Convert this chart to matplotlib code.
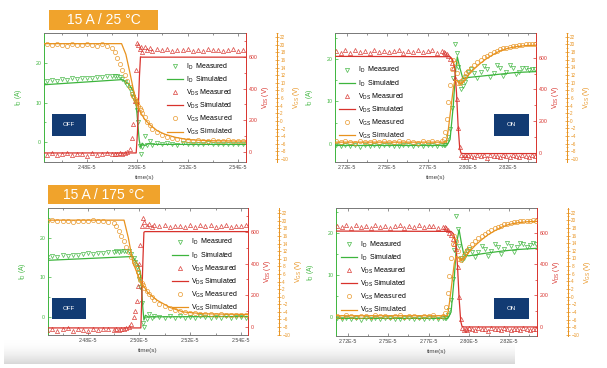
import numpy as np
import matplotlib
matplotlib.use("Agg")
import matplotlib.pyplot as plt
from matplotlib.patches import Rectangle
from matplotlib.colors import LinearSegmentedColormap
from matplotlib.ticker import MultipleLocator, FixedLocator

plt.rcParams['font.family'] = ['Liberation Sans', 'DejaVu Sans']
plt.rcParams['mathtext.default'] = 'regular'

VERDE = '#3db53d'
VERMELHO = '#d8322c'
LARANJA = '#e8921e'
AZUL = '#123b73'
CINZA = '#444444'

# time axis in units of 1e-5 s
OFF_T = [2.464, 2.466, 2.468, 2.470, 2.472, 2.474, 2.476, 2.478, 2.480, 2.482, 2.484, 2.486, 2.488, 2.490,
         2.491, 2.492, 2.493, 2.494, 2.495, 2.496, 2.497, 2.498, 2.4985, 2.499, 2.4995, 2.500, 2.5005, 2.501, 2.5015, 2.502,
         2.503, 2.504, 2.505, 2.506,
         2.508, 2.510, 2.512, 2.514, 2.516, 2.518, 2.520, 2.522, 2.524, 2.526, 2.528, 2.530, 2.532, 2.534, 2.536, 2.538, 2.540, 2.542]
ON_T = [2.718, 2.721, 2.724, 2.727, 2.730, 2.733, 2.736, 2.739, 2.742, 2.745, 2.748, 2.751, 2.754, 2.757, 2.760, 2.763,
        2.766, 2.769, 2.772, 2.775, 2.778, 2.781, 2.784,
        2.785, 2.786, 2.787, 2.788, 2.789, 2.790, 2.791, 2.792, 2.793, 2.794, 2.795, 2.796, 2.797, 2.798, 2.799, 2.800,
        2.802, 2.804, 2.806, 2.808, 2.810, 2.812, 2.814, 2.816, 2.818, 2.820, 2.822, 2.824, 2.826, 2.828, 2.830, 2.832,
        2.834, 2.836, 2.838, 2.840, 2.842]

# 15 A / 25 C, turn-off
TL_ID_MEAS = [15.4, 15.7, 15.5, 15.9, 15.8, 16.1, 15.9, 16.2, 16.3, 16.1, 16.5, 16.4, 16.7, 16.6,
              16.8, 16.6, 16.4, 16.0, 15.3, 14.5, 13.5, 12.2, 11.3, 10.4, 9.5, 8.0, 5.0, -1.0, -3.0, -1.2,
              1.5, -0.8, 0.3, -0.7,
              -0.3, -0.6, -0.2, -0.5, -0.7, -0.3, -0.5, -0.6, -0.4, -0.5, -0.3, -0.6, -0.5, -0.4, -0.6, -0.5, -0.4, -0.6]
TL_VDS_MEAS = [-15, -8, -20, -12, -5, -18, -10, -14, -22, -8, -16, -11, -6, -13,
               -10, -14, -6, -12, -4, 2, 18, 90, 180, 320, 520, 690, 675, 650, 665, 632,
               660, 640, 655, 635,
               650, 640, 648, 636, 645, 640, 652, 638, 644, 635, 648, 640, 646, 636, 642, 650, 638, 644]
TL_VGS_MEAS = [20.1, 19.9, 20.2, 20.0, 19.8, 20.1, 20.0, 19.9, 20.2, 20.0, 19.8, 20.1, 19.8, 19.2,
               18.0, 16.6, 15.0, 13.5, 12.0, 10.5, 9.0, 7.2, 6.5, 5.8, 5.2, 4.6, 4.0, 3.4, 2.8, 2.2,
               1.0, -0.2, -1.2, -2.0,
               -3.0, -3.7, -4.2, -4.5, -4.8, -5.0, -5.1, -5.2, -5.1, -5.3, -5.2, -5.1, -5.3, -5.2, -5.1, -5.3, -5.2, -5.2]
TL_ID_SIM_T = [2.463, 2.475, 2.494, 2.4965, 2.4985, 2.4995, 2.5002, 2.5008, 2.5013, 2.502, 2.503, 2.5045, 2.507, 2.5435]
TL_ID_SIM = [14.5, 15.0, 15.8, 14.8, 12.8, 10.5, 5.0, 0.5, -1.2, -0.3, -0.9, -0.4, -0.6, -0.6]
TL_VDS_SIM_T = [2.463, 2.4996, 2.5001, 2.5005, 2.5009, 2.5013, 2.5018, 2.5435]
TL_VDS_SIM = [-5, -5, 120, 300, 480, 600, 598, 598]
TL_VGS_SIM_T = [2.463, 2.4938, 2.4955, 2.497, 2.4985, 2.500, 2.5015, 2.503, 2.505, 2.508, 2.511, 2.515, 2.520, 2.528, 2.5435]
TL_VGS_SIM = [20.3, 20.3, 17.5, 13.0, 8.2, 4.4, 2.0, 0.4, -1.0, -2.6, -3.5, -4.3, -4.9, -5.2, -5.3]

# 15 A / 175 C, turn-off
BL_ID_MEAS = [15.2, 15.4, 15.3, 15.6, 15.5, 15.8, 15.7, 15.9, 16.1, 15.9, 16.2, 16.3, 16.5, 16.4,
              16.6, 16.5, 16.7, 16.6, 16.8, 16.6, 16.0, 14.8, 13.8, 12.6, 11.2, 9.6, 7.5, 3.5, -1.5, -2.6,
              -0.5, 0.6, -0.2, 0.3,
              0.0, -0.3, 0.2, -0.2, 0.1, -0.3, 0.0, -0.2, 0.1, -0.1, -0.3, 0.0, -0.2, 0.1, -0.2, -0.1, 0.0, -0.3]
BL_VDS_MEAS = [-22, -15, -30, -18, -10, -25, -16, -20, -28, -12, -24, -18, -14, -20,
               -16, -20, -12, -18, -10, -5, 15, 60, 100, 160, 260, 400, 520, 640, 690, 665,
               640, 650, 636, 645,
               638, 646, 634, 642, 640, 636, 648, 635, 643, 638, 645, 634, 641, 647, 636, 642, 639, 644]
BL_VGS_MEAS = [20.0, 20.2, 19.9, 20.1, 20.0, 19.8, 20.1, 20.0, 19.9, 20.2, 20.0, 19.9, 19.7, 19.4,
               18.6, 17.4, 16.0, 14.6, 13.2, 11.9, 10.6, 9.2, 8.5, 7.6, 6.6, 5.4, 4.4, 3.6, 3.0, 2.4,
               1.5, 0.6, -0.2, -0.8,
               -1.8, -2.5, -3.0, -3.4, -3.8, -4.0, -4.2, -4.4, -4.5, -4.6, -4.6, -4.7, -4.6, -4.8, -4.7, -4.7, -4.8, -4.7]
BL_ID_SIM_T = [2.463, 2.480, 2.4975, 2.4995, 2.5005, 2.501, 2.5015, 2.5019, 2.5025, 2.5035, 2.5435]
BL_ID_SIM = [14.3, 14.8, 15.3, 13.2, 11.5, 7.0, 2.0, -0.8, 0.4, 0.0, 0.1]
BL_VDS_SIM_T = [2.463, 2.5007, 2.5011, 2.5015, 2.5019, 2.5023, 2.5435]
BL_VDS_SIM = [-8, -8, 200, 420, 600, 604, 604]
BL_VGS_SIM_T = [2.463, 2.4941, 2.4958, 2.4976, 2.5004, 2.5035, 2.507, 2.512, 2.5172, 2.525, 2.5435]
BL_VGS_SIM = [20.2, 20.2, 15.5, 9.0, 4.3, 1.0, -0.9, -2.8, -4.0, -4.5, -4.7]

# 15 A / 25 C, turn-on
TR_ID_MEAS = [-0.3, -0.6, -0.2, -0.5, -0.4, -0.7, -0.3, -0.5, -0.2, -0.6, -0.4, -0.3, -0.6, -0.5, -0.2, -0.4,
              -0.6, -0.3, -0.5, -0.4, -0.2, -0.5, -0.3,
              -0.4, -0.2, 0.3, 1.5, 3.5, 8.5, 15.5, 23.5, 21.5, 18.0, 14.5, 13.0, 13.5, 14.6, 15.8, 16.8,
              17.6, 16.6, 15.5, 16.8, 18.4, 17.6, 15.8, 16.6, 18.6, 17.8, 16.0, 16.9, 18.5, 17.9, 16.5, 17.0,
              17.8, 17.9, 17.4, 17.6, 17.7]
TR_VDS_MEAS = [640, 632, 645, 628, 650, 638, 642, 630, 648, 636, 644, 633, 640, 646, 631, 642,
               637, 649, 634, 641, 645, 630, 640,
               636, 630, 620, 608, 592, 568, 535, 470, 340, 160, 40, -10, -22, -15, -25, -12,
               -18, -25, -10, -20, -15, -28, -12, -20, -16, -24, -10, -18, -22, -14, -20, -26,
               -12, -18, -22, -15, -20]
TR_VGS_MEAS = [-5.4, -5.6, -5.3, -5.5, -5.7, -5.4, -5.5, -5.6, -5.3, -5.5, -5.4, -5.6, -5.5, -5.3, -5.6, -5.4,
               -5.5, -5.7, -5.4, -5.5, -5.3, -5.6, -5.4,
               -4.8, -3.0, 0.5, 5.0, 9.5, 13.5, 16.0, 15.2, 12.5, 10.0, 9.8, 10.4, 11.0, 11.8, 12.4, 13.0,
               13.9, 14.7, 15.4, 16.0, 16.6, 17.1, 17.6, 18.0, 18.4, 18.7, 19.0, 19.2, 19.4, 19.6, 19.7, 19.8,
               19.9, 20.0, 20.0, 20.1, 20.0]
TR_ID_SIM_T = [2.7175, 2.787, 2.789, 2.791, 2.7925, 2.7935, 2.795, 2.797, 2.800, 2.810, 2.820, 2.830, 2.8425]
TR_ID_SIM = [-0.4, -0.4, 1.0, 9.0, 17.5, 20.5, 18.0, 15.3, 15.6, 16.0, 16.4, 16.8, 17.0]
TR_VDS_SIM_T = [2.7175, 2.789, 2.7905, 2.7918, 2.793, 2.794, 2.795, 2.7958, 2.797, 2.8425]
TR_VDS_SIM = [608, 606, 590, 540, 380, 170, 30, 0, -3, -3]
TR_VGS_SIM_T = [2.7175, 2.7868, 2.788, 2.789, 2.790, 2.791, 2.792, 2.7935, 2.795, 2.797, 2.800, 2.804, 2.808,
                2.812, 2.816, 2.820, 2.825, 2.830, 2.836, 2.8425]
TR_VGS_SIM = [-5.6, -5.6, -2.0, 1.5, 5.0, 8.5, 10.6, 10.5, 9.6, 10.1, 11.8, 13.6, 15.1, 16.4, 17.4, 18.3, 19.0,
              19.4, 19.7, 19.8]

# 15 A / 175 C, turn-on
BR_ID_MEAS = [-0.2, -0.5, -0.1, -0.4, -0.3, -0.6, -0.2, -0.4, -0.1, -0.5, -0.3, -0.2, -0.5, -0.4, -0.1, -0.3,
              -0.5, -0.2, -0.4, -0.3, -0.1, -0.4, -0.2,
              -0.3, -0.1, 0.4, 1.8, 4.0, 9.0, 16.0, 24.0, 21.0, 17.0, 14.0, 13.6, 14.2, 15.0, 15.8, 16.2,
              15.4, 14.4, 15.6, 17.0, 16.2, 14.6, 15.8, 17.4, 16.6, 15.0, 16.2, 17.6, 17.0, 15.6, 16.6, 17.6,
              17.4, 16.8, 17.3, 17.6, 17.5]
BR_VDS_MEAS = [645, 636, 650, 632, 652, 640, 646, 634, 651, 639, 647, 635, 643, 650, 634, 645,
               640, 652, 637, 644, 648, 633, 642,
               638, 630, 618, 602, 585, 560, 528, 500, 380, 190, 50, -8, -20, -12, -24, -10,
               -16, -22, -8, -18, -13, -25, -10, -18, -14, -22, -9, -16, -20, -12, -18, -24,
               -10, -16, -20, -13, -18]
BR_VGS_MEAS = [-5.0, -5.2, -4.9, -5.1, -5.3, -5.0, -5.1, -5.2, -4.9, -5.1, -5.0, -5.2, -5.1, -4.9, -5.2, -5.0,
               -5.1, -5.3, -5.0, -5.1, -4.9, -5.2, -5.0,
               -4.4, -2.6, 1.0, 5.5, 10.0, 13.8, 15.8, 14.6, 12.0, 9.8, 9.6, 10.2, 10.9, 11.6, 12.3, 12.9,
               13.8, 14.6, 15.3, 15.9, 16.5, 17.0, 17.5, 17.9, 18.3, 18.6, 18.9, 19.1, 19.3, 19.5, 19.6, 19.7,
               19.8, 19.9, 19.9, 20.0, 19.9]
BR_ID_SIM_T = [2.7175, 2.787, 2.789, 2.791, 2.7925, 2.794, 2.7955, 2.797, 2.800, 2.810, 2.820, 2.830, 2.8425]
BR_ID_SIM = [-0.3, -0.3, 1.2, 9.5, 17.8, 20.8, 17.5, 14.8, 14.6, 15.2, 15.7, 16.1, 16.4]
BR_VDS_SIM_T = [2.7175, 2.789, 2.7905, 2.7918, 2.793, 2.794, 2.795, 2.7958, 2.797, 2.8425]
BR_VDS_SIM = [613, 611, 595, 545, 390, 180, 35, 2, -2, -2]
BR_VGS_SIM_T = [2.7175, 2.7868, 2.788, 2.789, 2.790, 2.791, 2.792, 2.7935, 2.795, 2.797, 2.800, 2.804, 2.808,
                2.812, 2.816, 2.820, 2.825, 2.830, 2.836, 2.8425]
BR_VGS_SIM = [-5.0, -5.0, -1.6, 1.8, 5.3, 8.7, 10.5, 10.3, 9.5, 10.0, 11.6, 13.4, 14.9, 16.2, 17.2, 18.1, 18.9,
              19.3, 19.6, 19.7]

OFF_TICKS = [2.48, 2.50, 2.52, 2.54]
OFF_LABELS = ['2.48E-5', '2.50E-5', '2.52E-5', '2.54E-5']
ON_TICKS = [2.725, 2.75, 2.775, 2.80, 2.825]
ON_LABELS = ['2.72E-5', '2.75E-5', '2.77E-5', '2.80E-5', '2.82E-5']

LEGENDA = [r'$I_D$  Measured', r'$I_D$  Simulated', r'$V_{DS}$ Measured',
           r'$V_{DS}$ Simulated', r'$V_{GS}$ Measured', r'$V_{GS}$ Simulated']

W, H = 607, 368


def px(esq, topo, dir_, base):
    """pixel box -> figure fraction rect"""
    return [esq / W, 1 - base / H, (dir_ - esq) / W, (base - topo) / H]


def caixa(fig, esq, topo, dir_, base, cor, texto, tam):
    r = px(esq, topo, dir_, base)
    fig.add_artist(Rectangle((r[0], r[1]), r[2], r[3], transform=fig.transFigure,
                             facecolor=cor, edgecolor='none', zorder=20))
    fig.text(r[0] + r[2] / 2, r[1] + r[3] / 2, texto, color='white', fontsize=tam,
             ha='center', va='center', zorder=21)


def painel(fig, rect, t, id_m, vds_m, vgs_m, id_s, vds_s, vgs_s,
           xlim, lims, xticks, xlabels, leg_pos):
    ax = fig.add_axes(rect)
    ax2 = ax.twinx()
    ax3 = ax.twinx()
    ax3.spines['right'].set_position(('outward', 22))

    h1, = ax.plot(t, id_m, 'v', ms=3.0, mfc='none', mec=VERDE, mew=0.55, alpha=0.85)
    h2, = ax.plot(id_s[0], id_s[1], '-', color=VERDE, lw=0.9)
    h3, = ax2.plot(t, vds_m, '^', ms=3.0, mfc='none', mec=VERMELHO, mew=0.55, alpha=0.85)
    h4, = ax2.plot(vds_s[0], vds_s[1], '-', color=VERMELHO, lw=0.9)
    h5, = ax3.plot(t, vgs_m, 'o', ms=3.0, mfc='none', mec=LARANJA, mew=0.55, alpha=0.85)
    h6, = ax3.plot(vgs_s[0], vgs_s[1], '-', color=LARANJA, lw=0.9)

    ax.set_xlim(*xlim)
    ax.set_ylim(*lims[0])
    ax2.set_ylim(*lims[1])
    ax3.set_ylim(*lims[2])

    # spines
    ax.spines['left'].set_color(VERDE)
    ax.spines['right'].set_visible(False)
    for s in ['top', 'bottom']:
        ax.spines[s].set_color('#777777')
    for s in ['left', 'top', 'bottom']:
        ax2.spines[s].set_visible(False)
        ax3.spines[s].set_visible(False)
    ax2.spines['right'].set_color(VERMELHO)
    ax3.spines['right'].set_color(LARANJA)
    for a in (ax, ax2, ax3):
        for s in a.spines.values():
            s.set_linewidth(0.7)

    # ticks
    ax.set_xticks(xticks)
    ax.set_xticklabels(xlabels)
    passo = xticks[1] - xticks[0]
    ax.xaxis.set_minor_locator(FixedLocator([x + passo / 2 for x in [xticks[0] - passo] + xticks]))
    ax.tick_params(axis='x', which='both', direction='in', top=True, length=2, width=0.5,
                   color='#666666', labelsize=3.8, labelcolor=CINZA, pad=2.5)
    ax.tick_params(axis='x', which='minor', length=1.2)
    ax.set_yticks([0, 10, 20])
    ax.yaxis.set_minor_locator(MultipleLocator(5))
    ax.tick_params(axis='y', which='both', direction='in', colors=VERDE, length=2, width=0.5,
                   labelsize=3.8, pad=2)
    ax.tick_params(axis='y', which='minor', length=1.2)
    ax2.set_yticks([0, 200, 400, 600])
    ax2.yaxis.set_minor_locator(MultipleLocator(100))
    ax2.tick_params(axis='y', which='both', direction='in', colors=VERMELHO, length=2, width=0.5,
                    labelsize=3.8, pad=2)
    ax2.tick_params(axis='y', which='minor', length=1.2)
    ax3.set_yticks(list(range(-10, 23, 2)))
    ax3.yaxis.set_minor_locator(MultipleLocator(1))
    ax3.tick_params(axis='y', which='both', direction='inout', colors=LARANJA, length=2.4, width=0.5,
                    labelsize=3.3, pad=1.5)
    ax3.tick_params(axis='y', which='minor', length=1.4)

    ax.set_xlabel('time(s)', fontsize=4.6, color=CINZA, labelpad=3)
    ax.set_ylabel(r'$I_D$ (A)', fontsize=4.8, color=VERDE, labelpad=8)
    ax2.set_ylabel(r'$V_{DS}$ (V)', fontsize=4.8, color=VERMELHO, labelpad=2)
    ax3.set_ylabel(r'$V_{GS}$ (V)', fontsize=4.8, color=LARANJA, labelpad=2)

    ax3.legend([h1, h2, h3, h4, h5, h6], LEGENDA, loc='upper left', bbox_to_anchor=leg_pos,
               frameon=False, fontsize=5, handlelength=2.3, handletextpad=0.4,
               labelspacing=0.42, borderpad=0, borderaxespad=0)
    return ax


def gerar_figura(nome_saida='out.png'):
    fig = plt.figure(figsize=(W / 100, H / 100), dpi=100)

    # faixa cinza do rodape (screenshot)
    fundo = fig.add_axes(px(4, 340, 515, 364))
    rampa = np.linspace(0, 1, 60) ** 1.8
    fundo.imshow(rampa.reshape(-1, 1), aspect='auto',
                 cmap=LinearSegmentedColormap.from_list('g', ['#ffffff', '#d8d8d8']))
    fundo.set_axis_off()
    fundo.set_zorder(-5)

    painel(fig, px(44, 33, 246, 162), OFF_T, TL_ID_MEAS, TL_VDS_MEAS, TL_VGS_MEAS,
           (TL_ID_SIM_T, TL_ID_SIM), (TL_VDS_SIM_T, TL_VDS_SIM), (TL_VGS_SIM_T, TL_VGS_SIM),
           (2.463, 2.5432), [(-5.06, 27.6), (-62, 750), (-10.8, 23.1)],
           OFF_TICKS, OFF_LABELS, (0.61, 0.78))
    painel(fig, px(335, 33, 536, 162), ON_T, TR_ID_MEAS, TR_VDS_MEAS, TR_VGS_MEAS,
           (TR_ID_SIM_T, TR_ID_SIM), (TR_VDS_SIM_T, TR_VDS_SIM), (TR_VGS_SIM_T, TR_VGS_SIM),
           (2.7175, 2.8424), [(-4.3, 26.1), (-56, 755), (-10.8, 23.0)],
           ON_TICKS, ON_LABELS, (0.02, 0.75))
    painel(fig, px(48, 208, 248, 335), OFF_T, BL_ID_MEAS, BL_VDS_MEAS, BL_VGS_MEAS,
           (BL_ID_SIM_T, BL_ID_SIM), (BL_VDS_SIM_T, BL_VDS_SIM), (BL_VGS_SIM_T, BL_VGS_SIM),
           (2.4643, 2.5427), [(-4.6, 27.6), (-53, 754), (-10.1, 23.4)],
           OFF_TICKS, OFF_LABELS, (0.62, 0.77))
    painel(fig, px(336, 208, 537, 336), ON_T, BR_ID_MEAS, BR_VDS_MEAS, BR_VGS_MEAS,
           (BR_ID_SIM_T, BR_ID_SIM), (BR_VDS_SIM_T, BR_VDS_SIM), (BR_VGS_SIM_T, BR_VGS_SIM),
           (2.7175, 2.8424), [(-4.5, 26.0), (-60, 761), (-10.3, 23.2)],
           ON_TICKS, ON_LABELS, (0.025, 0.755))

    # rotulos de condicao e estado
    caixa(fig, 49, 10, 158, 30, '#f0a32c', '15 A / 25 °C', 10)
    caixa(fig, 48, 185, 160, 204, '#f0a32c', '15 A / 175 °C', 10)
    caixa(fig, 52, 114, 86, 136, AZUL, 'OFF', 4.5)
    caixa(fig, 494, 114, 529, 136, AZUL, 'ON', 4.5)
    caixa(fig, 52, 298, 86, 319, AZUL, 'OFF', 4.5)
    caixa(fig, 494, 298, 529, 319, AZUL, 'ON', 4.5)

    fig.savefig(nome_saida, dpi=100)


if __name__ == "__main__":
    gerar_figura()
